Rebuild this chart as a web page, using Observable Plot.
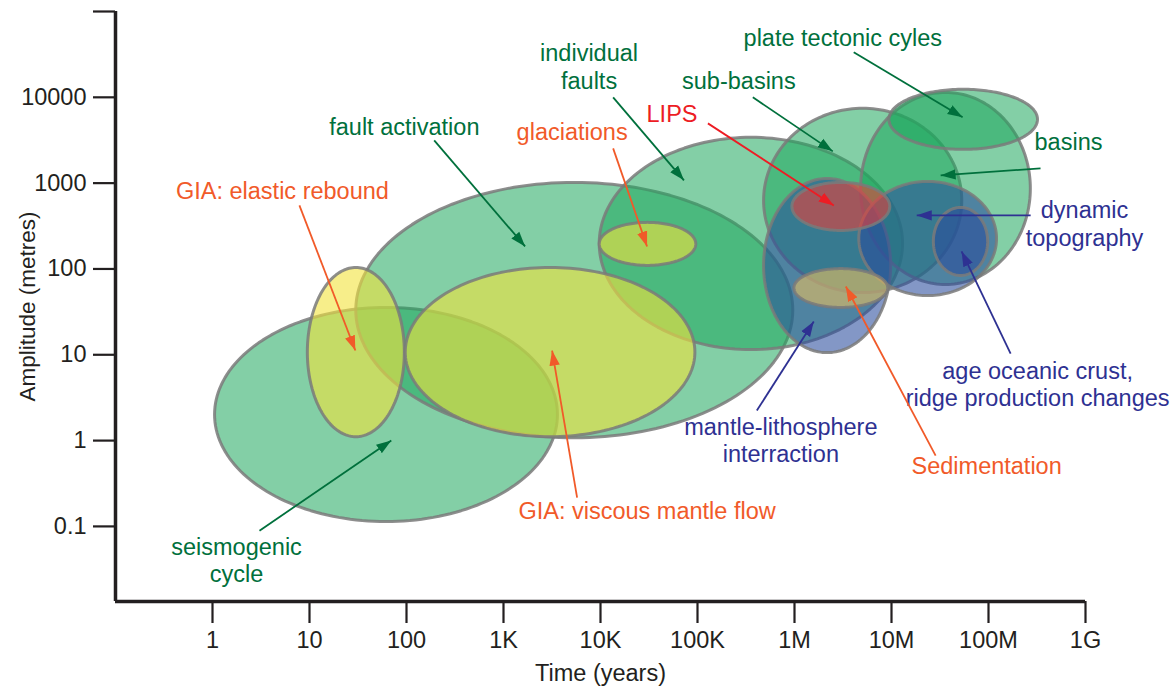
<!DOCTYPE html>
<html>
<head>
<meta charset="utf-8">
<script src="https://cdn.jsdelivr.net/npm/d3@7"></script>
<script src="https://cdn.jsdelivr.net/npm/@observablehq/plot@0.6"></script>
<style>
html,body{margin:0;padding:0;background:#fff;}
#chart svg{display:block;}
</style>
</head>
<body>
<div id="chart"></div>
<script>
// ---------- DATA ----------
// Processes drawn as ellipses (drawing order), with their ranges in time (years) and amplitude (metres)
const processes = ["seismogenic cycle","fault activation","individual faults","sub-basins","basins","plate tectonic cyles","GIA: elastic rebound","GIA: viscous mantle flow","glaciations","mantle-lithosphere interraction","dynamic topography","age oceanic crust","LIPS","Sedimentation"];
const processGroup = ["tectonic","tectonic","tectonic","tectonic","tectonic","tectonic","glacial","glacial","glacial","mantle","mantle","mantle","magmatic","sedimentary"];
const timeMin = [1.05, 30, 9700, 480000, 4800000, 9400000, 9.5, 97, 9700, 480000, 4600000, 27000000, 940000, 985000];
const timeMax = [3600, 960000, 13000000, 53000000, 270000000, 320000000, 95, 94000, 96000, 9800000, 121000000, 98000000, 9600000, 9150000];
const ampMin  = [0.114, 1.08, 11.5, 53, 66, 2475, 1.11, 1.11, 110, 10.6, 49, 84, 281, 35.6];
const ampMax  = [35.6, 1020, 3420, 7450, 11400, 12400, 104, 104, 349, 1135, 1048, 521, 1020, 101];

// Annotation labels and their arrows
const labelText  = ["fault activation","GIA: elastic rebound","individual\nfaults","glaciations","LIPS","sub-basins","plate tectonic cyles","basins","dynamic\ntopography","age oceanic crust,\nridge production changes","mantle-lithosphere\ninterraction","Sedimentation","GIA: viscous mantle flow","seismogenic\ncycle"];
const labelGroup = ["tectonic","glacial","tectonic","glacial","magmatic","tectonic","tectonic","tectonic","mantle","mantle","mantle","sedimentary","glacial","tectonic"];
const labelTime  = [95, 5.26, 7620, 5100, 54600, 267000, 3150000, 668000000, 977000000, 321000000, 723000, 95700000, 30200, 1.77];
const labelAmp   = [4590, 823, 23000, 4010, 6500, 15800, 50100, 3070, 340, 4.62, 1.03, 0.511, 0.153, 0.0409];
const arrowFromTime = [193, 7.87, 13500, 13500, 128000, 372000, 4080000, 344000000, 272000000, 169000000, 409000, 28500000, 5740, 3.05];
const arrowFromAmp  = [3150, 550, 10000, 2540, 4970, 10000, 33500, 1486, 421, 10.3, 2.24, 0.668, 0.216, 0.0892];
const arrowToTime   = [1670, 29.7, 72500, 30200, 2540000, 2480000, 54100000, 32100000, 18200000, 52800000, 1580000, 3380000, 3170, 69.7];
const arrowToAmp    = [183, 11.2, 1077, 183, 550, 2345, 5850, 1230, 421, 160, 24.4, 62.5, 11.2, 1.0];

// Axes
const xTicks = [1, 10, 100, 1e3, 1e4, 1e5, 1e6, 1e7, 1e8, 1e9];
const xTickLabels = ["1","10","100","1K","10K","100K","1M","10M","100M","1G"];
const yTicks = [0.1, 1, 10, 100, 1000, 10000, 100000];
const yTickLabels = ["0.1","1","10","100","1000","10000",""];
const xDomain = [0.1, 1e9];
const yDomain = [Math.pow(10, -1.875), 1e5];

// ---------- STYLE ----------
const fillColor = {tectonic:"#1ea85c", glacial:"#f2e33c", mantle:"#2a4c9c", magmatic:"#e8403a", sedimentary:"#e8c060"};
const fillOpacity = {tectonic:0.55, glacial:0.6, mantle:0.58, magmatic:0.6, sedimentary:0.6};
const textColor = {tectonic:"#00703c", glacial:"#f15a29", mantle:"#2e3192", magmatic:"#ed1c24", sedimentary:"#f15a29"};

// ellipse outline in log-log space from a process's ranges
function outline(i) {
  const lx0 = Math.log10(timeMin[i]), lx1 = Math.log10(timeMax[i]);
  const ly0 = Math.log10(ampMin[i]), ly1 = Math.log10(ampMax[i]);
  const cx = (lx0 + lx1) / 2, rx = (lx1 - lx0) / 2, cy = (ly0 + ly1) / 2, ry = (ly1 - ly0) / 2;
  return d3.range(0, 180).map(k => {
    const t = 2 * Math.PI * k / 180;
    return {time: Math.pow(10, cx + rx * Math.cos(t)), amp: Math.pow(10, cy + ry * Math.sin(t))};
  });
}

function headMarker(color, context) {
  const doc = (context && context.document) || document;
  const ns = "http://www.w3.org/2000/svg";
  const m = doc.createElementNS(ns, "marker");
  m.setAttribute("viewBox", "-15 -6 15 12");
  m.setAttribute("markerWidth", 15);
  m.setAttribute("markerHeight", 12);
  m.setAttribute("markerUnits", "userSpaceOnUse");
  m.setAttribute("refX", 0);
  m.setAttribute("refY", 0);
  m.setAttribute("orient", "auto");
  const p = doc.createElementNS(ns, "path");
  p.setAttribute("d", "M-15,-5.2L0,0L-15,5.2Z");
  p.setAttribute("fill", color);
  p.setAttribute("stroke", "none");
  m.appendChild(p);
  return m;
}

const labels = labelText.map((t, i) => ({
  text: t, group: labelGroup[i], time: labelTime[i], amp: labelAmp[i],
  t1: arrowFromTime[i], a1: arrowFromAmp[i], t2: arrowToTime[i], a2: arrowToAmp[i]
}));

const FS = 23.5;

function build(marker) {
  const marks = [];
  processes.forEach((name, i) => {
    const g = processGroup[i];
    marks.push(Plot.line(outline(i), {
      x: "time", y: "amp", curve: "linear-closed",
      fill: fillColor[g], fillOpacity: fillOpacity[g],
      stroke: "#7a7a7a", strokeOpacity: 0.85, strokeWidth: 3
    }));
  });
  // axis lines
  marks.push(Plot.ruleX([xDomain[0]], {stroke: "#231f20", strokeWidth: 3.5}));
  marks.push(Plot.ruleY([yDomain[0]], {stroke: "#231f20", strokeWidth: 3.5}));
  marks.push(Plot.axisY(yTicks, {
    tickSize: 22, tickPadding: 7, strokeWidth: 2.2, stroke: "#231f20", fill: "#231f20",
    tickFormat: (d) => yTickLabels[yTicks.indexOf(d)], label: null, fontSize: FS
  }));
  marks.push(Plot.axisX(xTicks, {
    tickSize: 22, tickPadding: 8, strokeWidth: 2.2, stroke: "#231f20", fill: "#231f20",
    tickFormat: (d) => xTickLabels[xTicks.indexOf(d)], label: null, fontSize: FS
  }));
  marks.push(Plot.text(["Amplitude (metres)"], {frameAnchor: "left", rotate: -90, dx: -88, fontSize: 22.5, fill: "#231f20", textAnchor: "middle", lineAnchor: "middle"}));
  marks.push(Plot.text(["Time (years)"], {frameAnchor: "bottom", dy: 72, fontSize: FS, fill: "#231f20", textAnchor: "middle", lineAnchor: "middle"}));
  // arrows and labels
  Object.keys(textColor).forEach(g => {
    marks.push(Plot.link(labels.filter(d => d.group === g), {
      x1: "t1", y1: "a1", x2: "t2", y2: "a2",
      stroke: textColor[g], strokeWidth: 1.8, markerEnd: marker
    }));
    marks.push(Plot.text(labels.filter(d => d.group === g), {
      x: "time", y: "amp", text: "text", fill: textColor[g],
      fontSize: FS, lineHeight: 1.17, textAnchor: "middle", lineAnchor: "middle"
    }));
  });
  return Plot.plot({
    width: 1173, height: 687,
    marginLeft: 115, marginRight: 88, marginTop: 11, marginBottom: 86,
    x: {type: "log", domain: xDomain},
    y: {type: "log", domain: yDomain},
    style: {fontFamily: "'Liberation Sans', Arial, Helvetica, sans-serif", fontSize: FS + "px", background: "#fff"},
    marks
  });
}

let chart;
try { chart = build(headMarker); } catch (e) { console.error(e); chart = build("arrow"); }
document.getElementById("chart").appendChild(chart);
</script>
</body>
</html>
